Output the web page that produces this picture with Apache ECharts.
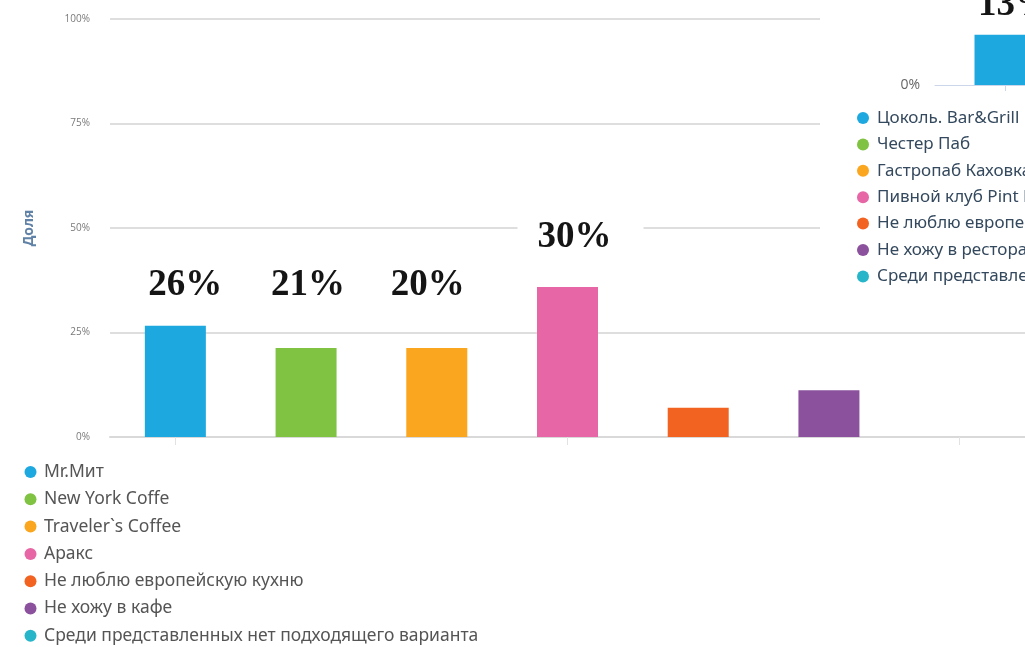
<!DOCTYPE html>
<html><head><meta charset="utf-8">
<script src="https://cdn.jsdelivr.net/npm/echarts@6/dist/echarts.min.js"></script>
<style>html,body{margin:0;padding:0;background:#fff}#c{width:1025px;height:647px}</style>
</head><body><div id="c"></div>
<script>
// ---- data (main chart) ----
const categories = ['Mr.Мит', 'New York Coffe', 'Traveler`s Coffee', 'Аракс', 'Не люблю европейскую кухню', 'Не хожу в кафе', 'Среди представленных нет подходящего варианта'];
const values = [26.6, 21.3, 21.3, 35.9, 7.0, 11.2, 0];
const valueLabels = ['26%', '21%', '20%', '30%', '', '', ''];
// ---- data (second, partly visible chart) ----
const categories2 = ['Цоколь. Bar&Grill', 'Честер Паб', 'Гастропаб Каховка', 'Пивной клуб Pint House', 'Не люблю европейскую кухню', 'Не хожу в рестораны', 'Среди представленных нет подходящего варианта'];
const values2 = [12, null, null, null, null, null, null];
const valueLabels2 = ['13%', '', '', '', '', '', ''];
const axisName = 'Доля';

// ---- styles ----
const colors = ['#1ea8e0', '#80c242', '#fba61f', '#e766a6', '#f26322', '#8b519d', '#27b6c9'];
const labelDistance = [18, 40, 40, 27, 5, 5, 5];
const labelShiftX = [16, 8, -3, 13, 0, 0, 0];
const labelDistance2 = [6.5, 5, 5, 5, 5, 5, 5];
const labelShiftX2 = [10, 0, 0, 0, 0, 0, 0];
const labelFont = {fontFamily: '"Liberation Serif", "Times New Roman", serif', fontWeight: 'bold', fontSize: 37, color: '#151515'};

function oneHot(arr, i) { return arr.map((v, j) => j === i ? v : null); }

const series = [];
categories.forEach((name, i) => {
  series.push({
    type: 'bar', name: name, stack: 'main', xAxisIndex: 0, yAxisIndex: 0,
    barWidth: 61, z: 2,
    itemStyle: {color: colors[i]},
    data: oneHot(values, i),
    label: {
      show: !!valueLabels[i], position: 'top', distance: labelDistance[i],
      offset: [labelShiftX[i], 0],
      formatter: () => valueLabels[i],
      backgroundColor: '#fff', padding: [4, 32, 4, 20], ...labelFont
    }
  });
});
categories2.forEach((name, i) => {
  series.push({
    type: 'bar', name: name, stack: 'second', xAxisIndex: 1, yAxisIndex: 1,
    barWidth: 61, z: 5,
    itemStyle: {color: colors[i]},
    data: oneHot(values2, i),
    label: {
      show: !!valueLabels2[i], position: 'top', distance: labelDistance2[i],
      offset: [labelShiftX2[i], 0],
      formatter: () => valueLabels2[i],
      backgroundColor: '#fff', padding: [4, 10], ...labelFont
    }
  });
});

const chart = echarts.init(document.getElementById('c'));
chart.setOption({
  animation: false,
  backgroundColor: '#fff',
  grid: [
    {left: 110, top: 19, width: 915, height: 418, outerBoundsMode: 'none'},
    {left: 935, top: 0, width: 980, height: 85, outerBoundsMode: 'none'}
  ],
  xAxis: [
    {type: 'category', gridIndex: 0, data: categories, z: 0,
     axisLine: {lineStyle: {color: '#d9d9d9', width: 2}},
     axisTick: {show: true, alignWithLabel: true, length: 8, lineStyle: {color: '#e2e2e2', width: 1}},
     axisLabel: {show: false}},
    {type: 'category', gridIndex: 1, data: categories2, z: 5,
     axisLine: {lineStyle: {color: '#ccd6eb', width: 1}},
     axisTick: {show: true, alignWithLabel: true, length: 6, lineStyle: {color: '#ccd6eb'}},
     axisLabel: {show: false}}
  ],
  yAxis: [
    {type: 'value', gridIndex: 0, min: 0, max: 100, interval: 25, z: 0,
     name: axisName, nameLocation: 'middle', nameGap: 74,
     nameTextStyle: {fontFamily: '"Open Sans", sans-serif', fontWeight: 'bold', fontSize: 14, color: '#5f82a6'},
     axisLine: {show: false}, axisTick: {show: false},
     axisLabel: {formatter: '{value}%', margin: 20, fontSize: 10, color: '#7a7a7a', fontFamily: '"Open Sans", sans-serif'},
     splitLine: {lineStyle: {color: '#dedede', width: 2}}},
    {type: 'value', gridIndex: 1, min: 0, max: 20.3, interval: 25, z: 5,
     axisLine: {show: false}, axisTick: {show: false},
     axisLabel: {formatter: v => v === 0 ? '0%' : '', showMaxLabel: false, margin: 15, fontSize: 14, color: '#666', fontFamily: '"Open Sans", sans-serif'},
     splitLine: {show: false}}
  ],
  graphic: [
    {type: 'rect', shape: {x: 820, y: 0, width: 205, height: 290}, style: {fill: '#fff'}, z: 1, silent: true}
  ],
  legend: [
    {data: categories, orient: 'vertical', left: 24.5, top: 463, height: 220, itemGap: 9.3, padding: 0,
     itemWidth: 17, itemHeight: 12, icon: 'circle',
     textStyle: {fontFamily: '"Noto Sans", sans-serif', fontSize: 17.5, lineHeight: 17, color: '#555'}},
    {data: categories2, orient: 'vertical', left: 857, top: 109.5, itemGap: 9.4, padding: 0,
     itemWidth: 18, itemHeight: 12, icon: 'circle', z: 6,
     textStyle: {fontFamily: '"Noto Sans", sans-serif', fontSize: 17, lineHeight: 16, color: '#34495e'}}
  ],
  series: series
});
</script>
</body></html>
